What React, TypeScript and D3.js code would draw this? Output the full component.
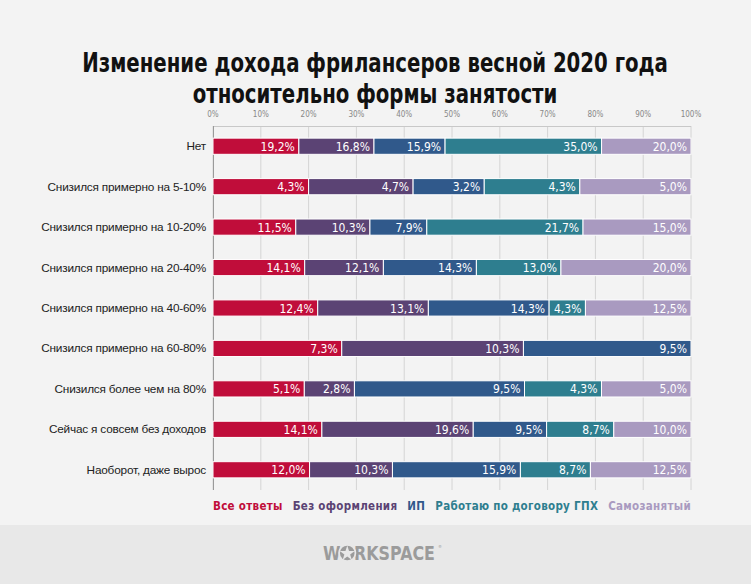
import { useEffect, useRef } from 'react';
import * as d3 from 'd3';

const W = 751;
const H = 584;

const categories = [
  'Нет',
  'Снизился примерно на 5-10%',
  'Снизился примерно на 10-20%',
  'Снизился примерно на 20-40%',
  'Снизился примерно на 40-60%',
  'Снизился примерно на 60-80%',
  'Снизился более чем на 80%',
  'Сейчас я совсем без доходов',
  'Наоборот, даже вырос',
];

const seriesNames = ['Все ответы', 'Без оформления', 'ИП', 'Работаю по договору ГПХ', 'Самозанятый'];
const seriesColors = ['#c00d3a', '#5b4374', '#30598b', '#2e7e8f', '#a99ac0'];

const allAnswers = [19.2, 4.3, 11.5, 14.1, 12.4, 7.3, 5.1, 14.1, 12.0];
const noContract = [16.8, 4.7, 10.3, 12.1, 13.1, 10.3, 2.8, 19.6, 10.3];
const ip = [15.9, 3.2, 7.9, 14.3, 14.3, 9.5, 9.5, 9.5, 15.9];
const gph = [35.0, 4.3, 21.7, 13.0, 4.3, 0, 4.3, 8.7, 8.7];
const selfEmployed = [20.0, 5.0, 15.0, 20.0, 12.5, 0, 5.0, 10.0, 12.5];

const seriesValues = [allAnswers, noContract, ip, gph, selfEmployed];
const tickValues = [0, 10, 20, 30, 40, 50, 60, 70, 80, 90, 100];

const titleLines = ['Изменение дохода фрилансеров весной 2020 года', 'относительно формы занятости'];

export default function App() {
  const svgRef = useRef<SVGSVGElement>(null);

  useEffect(() => {
    if (!svgRef.current) return;
    const svg = d3.select(svgRef.current);
    svg.selectAll('*').remove();

    const left = 213;
    const right = 691;
    const top = 126;
    const bottom = 490;
    const condensed = '"DejaVu Sans Condensed", "DejaVu Sans", sans-serif';

    // background + footer
    svg.append('rect').attr('width', W).attr('height', H).attr('fill', '#f3f3f3');
    svg.append('rect').attr('y', 525).attr('width', W).attr('height', H - 525).attr('fill', '#e8e8e8');

    // title: fit first line to its width, stretch vertically for the tall face
    const title = svg.append('g');
    const t1 = title.append('text')
      .attr('font-family', condensed)
      .attr('font-weight', 'bold')
      .attr('font-size', 24)
      .text(titleLines[0]);
    const natural = (t1.node() as SVGTextElement).getComputedTextLength();
    const fs = 24 * 586 / natural;
    const sy = 20 / (fs * 0.729);
    t1.remove();
    titleLines.forEach((line, i) => {
      const base = 72 + i * 31;
      title.append('text')
        .attr('transform', `translate(375,${base}) scale(1,${sy})`)
        .attr('text-anchor', 'middle')
        .attr('font-family', condensed)
        .attr('font-weight', 'bold')
        .attr('font-size', fs)
        .attr('fill', '#111')
        .text(line);
    });

    const x = d3.scaleLinear().domain([0, 100]).range([left, right]);
    const y = d3.scaleBand<string>().domain(categories).range([top, bottom]).paddingInner(0.6).paddingOuter(0.3);

    // gridlines
    svg.append('g')
      .selectAll('line')
      .data(tickValues)
      .join('line')
      .attr('x1', d => x(d))
      .attr('x2', d => x(d))
      .attr('y1', top)
      .attr('y2', bottom)
      .attr('stroke', '#d4d4d4')
      .attr('stroke-width', 1);

    svg.append('line')
      .attr('x1', left).attr('x2', right)
      .attr('y1', top + 0.5).attr('y2', top + 0.5)
      .attr('stroke', '#c8c8c8');

    svg.append('line')
      .attr('x1', left + 0.5).attr('x2', left + 0.5)
      .attr('y1', top).attr('y2', bottom)
      .attr('stroke', '#9a9a9a');

    // tick labels
    svg.append('g')
      .selectAll('text')
      .data(tickValues)
      .join('text')
      .attr('x', d => x(d))
      .attr('y', 117)
      .attr('text-anchor', 'middle')
      .attr('font-family', condensed)
      .attr('font-size', 8)
      .attr('fill', '#888')
      .text(d => `${d}%`);

    // category labels
    svg.append('g')
      .selectAll('text')
      .data(categories)
      .join('text')
      .attr('x', 206)
      .attr('y', d => (y(d) ?? 0) + y.bandwidth() / 2 + 4)
      .attr('text-anchor', 'end')
      .attr('font-family', '"Liberation Sans", Arial, sans-serif')
      .attr('font-size', 11.8)
      .attr('letter-spacing', -0.2)
      .attr('fill', '#222')
      .text(d => d);

    // stacked bars, each row normalised to 100%
    const segs = categories.flatMap((c, i) => {
      const vals = seriesValues.map(s => s[i]);
      const total = d3.sum(vals);
      let acc = 0;
      return vals.map((v, k) => {
        const x0 = (acc / total) * 100;
        acc += v;
        const x1 = (acc / total) * 100;
        return { cat: c, k, v, x0, x1 };
      }).filter(s => s.v > 0);
    });

    const bars = svg.append('g');
    bars.selectAll('rect')
      .data(segs)
      .join('rect')
      .attr('x', d => x(d.x0))
      .attr('width', d => x(d.x1) - x(d.x0))
      .attr('y', d => y(d.cat) ?? 0)
      .attr('height', y.bandwidth())
      .attr('fill', d => seriesColors[d.k])
      .attr('stroke', '#ffffff')
      .attr('stroke-width', 1);

    const fmt = (v: number) => v.toFixed(1).replace('.', ',') + '%';
    bars.selectAll('text')
      .data(segs)
      .join('text')
      .attr('x', d => x(d.x1) - 4)
      .attr('y', d => (y(d.cat) ?? 0) + y.bandwidth() / 2 + 4.5)
      .attr('text-anchor', 'end')
      .attr('font-family', condensed)
      .attr('font-size', 12)
      .attr('fill', '#ffffff')
      .text(d => fmt(d.v));

    // legend, spread across the plot width
    const items = svg.append('g').selectAll('text')
      .data(seriesNames)
      .join('text')
      .attr('y', 510)
      .attr('font-family', condensed)
      .attr('font-weight', 'bold')
      .attr('font-size', 11.5)
      .attr('letter-spacing', 0.3)
      .attr('fill', (_, i) => seriesColors[i])
      .text(d => d);
    const widths: number[] = [];
    items.each(function () {
      widths.push((this as SVGTextElement).getComputedTextLength());
    });
    const gap = (right - left - d3.sum(widths)) / (widths.length - 1);
    let pos = left;
    items.attr('x', (_, i) => {
      const p = pos;
      pos += widths[i] + gap;
      return p;
    });

    // footer logo
    const logoColor = '#9b9b9b';
    const logo = svg.append('text')
      .attr('x', 323)
      .attr('y', 560)
      .attr('font-family', '"DejaVu Sans", sans-serif')
      .attr('font-weight', 'bold')
      .attr('font-size', 19)
      .attr('fill', logoColor)
      .text('WORKSPACE');
    const node = logo.node() as SVGTextElement;
    const logoFs = 19 * 112 / node.getComputedTextLength();
    const logoSy = 14 / (logoFs * 0.729);
    logo.attr('font-size', logoFs)
      .attr('x', null).attr('y', null)
      .attr('transform', `translate(323,560) scale(1,${logoSy})`);
    const o0 = node.getStartPositionOfChar(1).x;
    const o1 = node.getEndPositionOfChar(1).x;
    const ocx = 323 + (o0 + o1) / 2;
    svg.append('circle').attr('cx', ocx).attr('cy', 553).attr('r', 9).attr('fill', '#e8e8e8');
    svg.append('circle').attr('cx', ocx).attr('cy', 553).attr('r', 7.3).attr('fill', logoColor);
    svg.append('path')
      .attr('d', d3.symbol().type(d3.symbolStar).size(70)())
      .attr('transform', `translate(${ocx},${553.5})`)
      .attr('fill', '#e8e8e8');
    svg.append('text')
      .attr('x', 438)
      .attr('y', 548)
      .attr('font-family', '"DejaVu Sans", sans-serif')
      .attr('font-size', 4)
      .attr('fill', logoColor)
      .text('®');
  }, []);

  return (
    <svg
      ref={svgRef}
      width={W}
      height={H}
      style={{ position: 'absolute', left: 0, top: 0, display: 'block' }}
    />
  );
}
